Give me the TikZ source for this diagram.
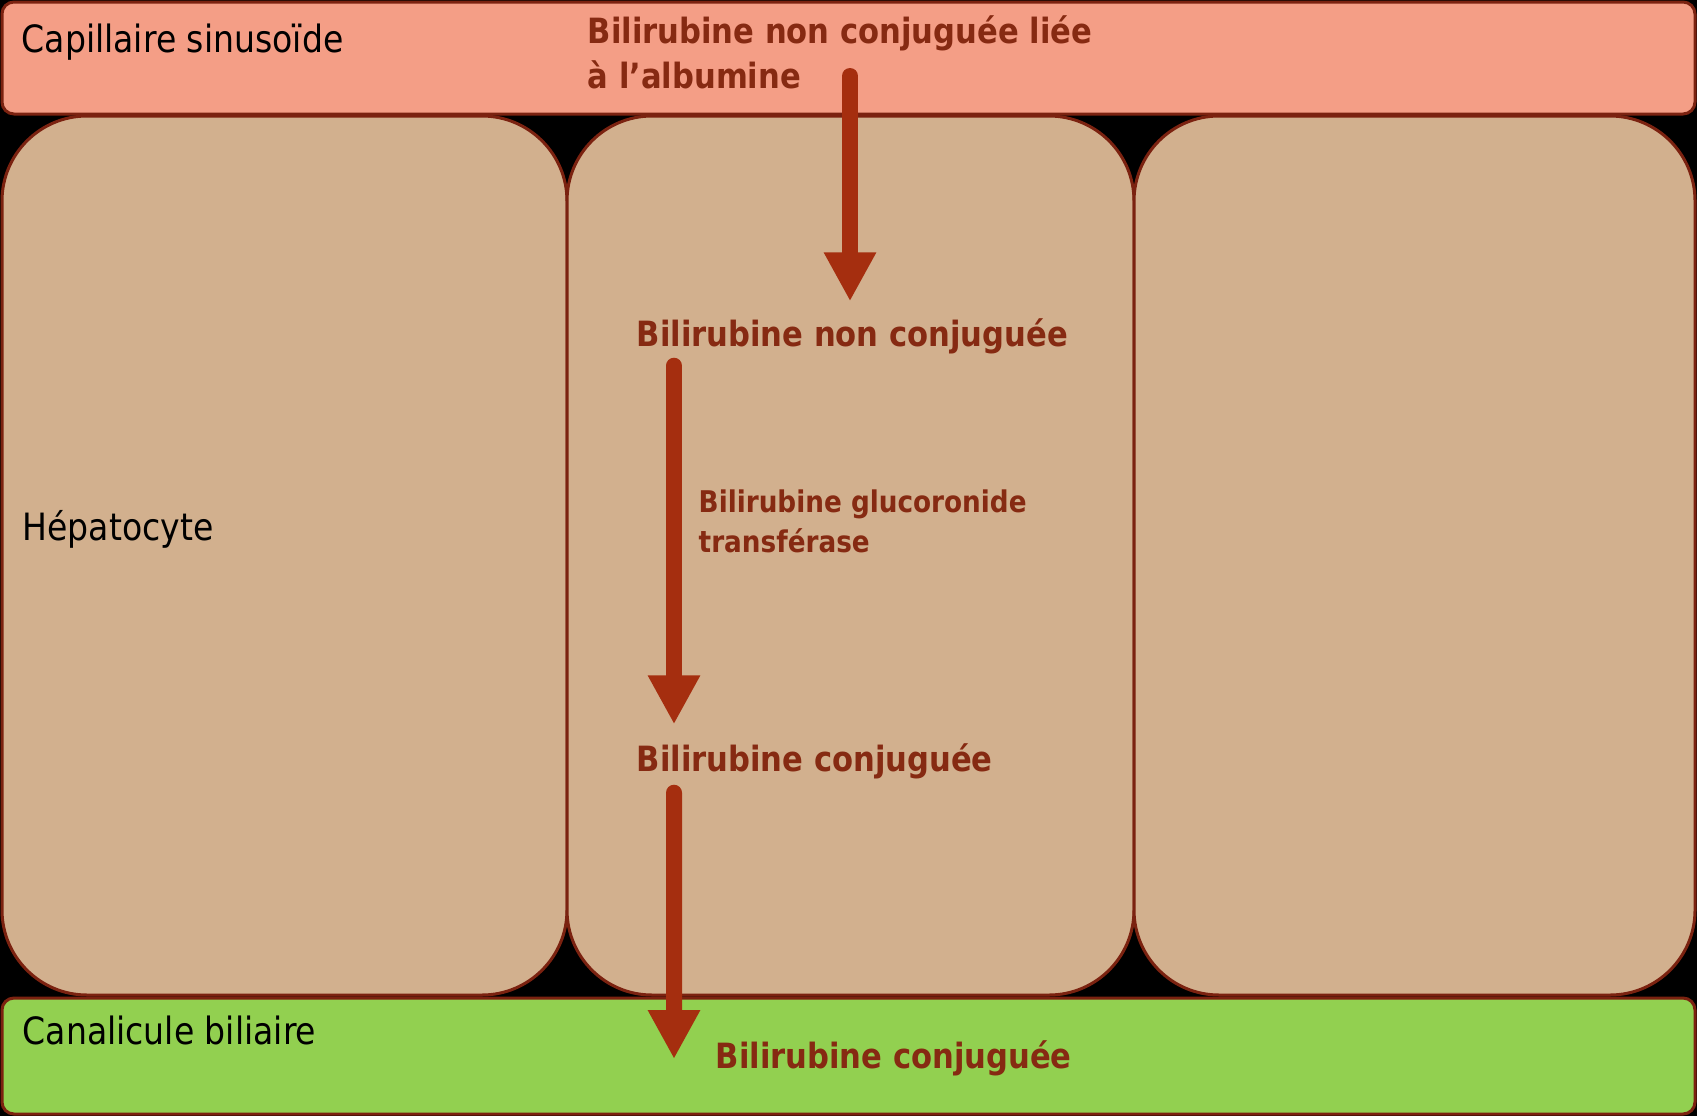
\documentclass[tikz,border=0pt]{standalone}
\usepackage{fontspec}
\setmainfont{DejaVu Sans}[FakeStretch=0.88]
\usepackage{tikz}
\usetikzlibrary{arrows.meta}
\definecolor{sinus}{HTML}{F49E86}
\definecolor{hepato}{HTML}{D2B08E}
\definecolor{canal}{HTML}{92D050}
\definecolor{wall}{HTML}{7B2210}
\definecolor{flowred}{HTML}{A52E0F}
\definecolor{textred}{HTML}{862A12}

\begin{document}
\begin{tikzpicture}[x=0.1mm,y=-0.1mm]
   \fill[black] (0,0) rectangle (1697,1116);
   \useasboundingbox (0,0) rectangle (1697,1116);
   \tikzstyle{box}=[draw=wall, line width=0.3mm, inner sep=0, outer sep=0, anchor=north west]
   \tikzstyle{cell}=[box, fill=hepato, rounded corners=8.5mm, minimum height=87.9mm]
   \tikzstyle{tag}=[anchor=base west, inner sep=0, font=\fontsize{10.7}{13}\selectfont]
   \tikzstyle{chemtext}=[anchor=base west, inner sep=0, text=textred, font=\bfseries\fontsize{9.9}{12.6}\selectfont]
   \tikzstyle{chem}=[chemtext, text height=2.6mm, text depth=0.8mm]
   \tikzstyle{flow}=[draw=flowred, line width=1.6mm, line cap=round, -{Triangle[width=4.9mm,length=4.9mm]}]
   \node[box, fill=sinus, rounded corners=1.2mm, minimum width=169.3mm, minimum height=11.2mm] (sinus) at (2,2) {};
   \foreach \i/\x/\w in {1/2/56.5mm,2/567/56.7mm,3/1134/56.1mm} {
       \node[cell, minimum width=\w] (hep\i) at (\x,116) {};
   }
   \node[box, fill=canal, rounded corners=1.2mm, minimum width=169.3mm, minimum height=11.6mm] (canal) at (2,998) {};
   % zones
   \node[tag] (caplabel) at (21,52) {Capillaire sinusoïde};
   \node[tag] (heplabel) at (22,540) {Hépatocyte};
   \node[tag] (canlabel) at (22,1044) {Canalicule biliaire};
   % bilirubine (base = last line)
   \node[chemtext, align=left] (albumine) at (587,88) {Bilirubine non conjuguée liée\\à l’albumine};
   \node[chem] (nonconj) at (636,346) {Bilirubine non conjuguée};
   \node[chemtext, align=left, font=\bfseries\fontsize{8.5}{11.1}\selectfont] (enzyme) at (698,552) {Bilirubine glucoronide\\transférase};
   \node[chem] (conj) at (636,771) {Bilirubine conjuguée};
   \node[chem] (bili) at (715,1068) {Bilirubine conjuguée};
   \coordinate (uptake) at (850,76);
   \path (uptake) edge[flow, shorten >=1.8mm] (uptake |- nonconj.north);
   \path ([xshift=3.8mm]nonconj.south west) edge[flow, shorten <=1.1mm, shorten >=2mm] ([xshift=3.8mm]conj.north west);
   \path ([xshift=3.8mm]conj.south west) edge[flow, shorten <=1.3mm] ([xshift=-4.1mm]bili.west);
\end{tikzpicture}
\end{document}
